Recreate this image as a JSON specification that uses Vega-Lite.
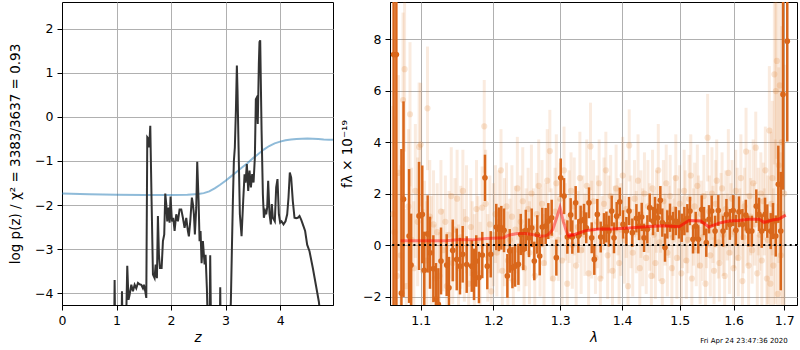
{
  "$schema": "https://vega.github.io/schema/vega-lite/v6.json",
  "padding": {"left": 8, "top": 1, "right": 0, "bottom": 0},
  "spacing": 6,
  "config": {
    "font": "DejaVu Sans",
    "view": {"stroke": "black", "strokeWidth": 1},
    "axis": {"grid": true, "gridColor": "#b0b0b0", "gridWidth": 1, "domainColor": "black", "tickColor": "black", "tickSize": 5, "labelFontSize": 12.5, "labelColor": "black", "titleFontSize": 13.5, "titleColor": "black", "titleFontWeight": "normal", "labelPadding": 4, "labelFlush": false, "labelFont": "DejaVu Sans", "titleFont": "DejaVu Sans"}
  },
  "datasets": {
    "prior": [
      {"z":0,"lp":-1.74},{"z":0.5,"lp":-1.755},{"z":1.0,"lp":-1.765},{"z":1.5,"lp":-1.77},{"z":2.0,"lp":-1.77},{"z":2.3,"lp":-1.765},{"z":2.5,"lp":-1.75},{"z":2.6,"lp":-1.73},{"z":2.7,"lp":-1.69},{"z":2.8,"lp":-1.62},{"z":2.9,"lp":-1.54},{"z":3.0,"lp":-1.45},{"z":3.1,"lp":-1.35},{"z":3.2,"lp":-1.25},{"z":3.3,"lp":-1.15},{"z":3.4,"lp":-1.05},{"z":3.5,"lp":-0.94},{"z":3.6,"lp":-0.84},{"z":3.7,"lp":-0.74},{"z":3.8,"lp":-0.66},{"z":3.9,"lp":-0.6},{"z":4.0,"lp":-0.56},{"z":4.1,"lp":-0.53},{"z":4.2,"lp":-0.51},{"z":4.3,"lp":-0.5},{"z":4.4,"lp":-0.495},{"z":4.5,"lp":-0.49},{"z":4.6,"lp":-0.495},{"z":4.7,"lp":-0.5},{"z":4.8,"lp":-0.51},{"z":4.9,"lp":-0.515},{"z":4.97,"lp":-0.52}
    ],
    "pz": [
      {"z":0.0,"lp":-9},{"z":0.5,"lp":-8},{"z":0.94,"lp":-7},{"z":0.965,"lp":-3.7},{"z":0.99,"lp":-6.5},{"z":1.08,"lp":-6},{"z":1.1,"lp":-3.96},{"z":1.12,"lp":-5.5},{"z":1.17,"lp":-5},{"z":1.197,"lp":-3.38},{"z":1.22,"lp":-4.15},{"z":1.24,"lp":-4.04},{"z":1.271,"lp":-3.81},{"z":1.301,"lp":-3.96},{"z":1.332,"lp":-3.81},{"z":1.362,"lp":-3.89},{"z":1.393,"lp":-3.77},{"z":1.424,"lp":-3.8},{"z":1.454,"lp":-3.81},{"z":1.484,"lp":-3.89},{"z":1.503,"lp":-3.81},{"z":1.527,"lp":-3.96},{"z":1.546,"lp":-4.11},{"z":1.564,"lp":-0.46},{"z":1.588,"lp":-0.5},{"z":1.6,"lp":-0.69},{"z":1.619,"lp":-0.2},{"z":1.643,"lp":-1.91},{"z":1.668,"lp":-3.58},{"z":1.698,"lp":-3.66},{"z":1.717,"lp":-3.35},{"z":1.741,"lp":-3.66},{"z":1.759,"lp":-2.25},{"z":1.778,"lp":-3.13},{"z":1.796,"lp":-3.43},{"z":1.827,"lp":-3.43},{"z":1.851,"lp":-2.82},{"z":1.875,"lp":-2.67},{"z":1.894,"lp":-1.74},{"z":1.912,"lp":-1.98},{"z":1.93,"lp":-2.37},{"z":1.955,"lp":-2.06},{"z":1.973,"lp":-2.4},{"z":1.991,"lp":-1.81},{"z":2.016,"lp":-2.37},{"z":2.04,"lp":-2.29},{"z":2.065,"lp":-2.59},{"z":2.095,"lp":-2.21},{"z":2.126,"lp":-2.37},{"z":2.156,"lp":-2.1},{"z":2.187,"lp":-2.1},{"z":2.217,"lp":-2.29},{"z":2.248,"lp":-2.52},{"z":2.279,"lp":-2.29},{"z":2.309,"lp":-2.59},{"z":2.327,"lp":-2.71},{"z":2.352,"lp":-2.37},{"z":2.382,"lp":-1.83},{"z":2.401,"lp":-1.98},{"z":2.419,"lp":-2.21},{"z":2.437,"lp":-2.67},{"z":2.462,"lp":-2.06},{"z":2.48,"lp":-1.02},{"z":2.505,"lp":-1.91},{"z":2.523,"lp":-2.82},{"z":2.541,"lp":-2.59},{"z":2.56,"lp":-3.32},{"z":2.584,"lp":-2.82},{"z":2.615,"lp":-3.35},{"z":2.633,"lp":-3.13},{"z":2.657,"lp":-3.89},{"z":2.68,"lp":-5},{"z":2.705,"lp":-5},{"z":2.718,"lp":-3.14},{"z":2.735,"lp":-5},{"z":2.89,"lp":-5.5},{"z":2.902,"lp":-3.87},{"z":2.915,"lp":-5.5},{"z":3.073,"lp":-5},{"z":3.097,"lp":-4.19},{"z":3.115,"lp":-3.05},{"z":3.134,"lp":-1.91},{"z":3.152,"lp":-1.0},{"z":3.17,"lp":-0.69},{"z":3.189,"lp":0.14},{"z":3.207,"lp":1.17},{"z":3.219,"lp":0.6},{"z":3.238,"lp":-0.69},{"z":3.262,"lp":-2.21},{"z":3.293,"lp":-2.71},{"z":3.323,"lp":-1.91},{"z":3.348,"lp":-1.3},{"z":3.366,"lp":-1.49},{"z":3.39,"lp":-1.07},{"z":3.415,"lp":-1.68},{"z":3.439,"lp":-1.22},{"z":3.464,"lp":-1.6},{"z":3.488,"lp":-1.3},{"z":3.513,"lp":-1.49},{"z":3.537,"lp":-0.92},{"z":3.555,"lp":0.4},{"z":3.572,"lp":0.44},{"z":3.59,"lp":-0.16},{"z":3.61,"lp":1.2},{"z":3.622,"lp":1.7},{"z":3.635,"lp":1.74},{"z":3.645,"lp":0.9},{"z":3.66,"lp":-0.3},{"z":3.684,"lp":-1.76},{"z":3.702,"lp":-2.29},{"z":3.726,"lp":-2.14},{"z":3.745,"lp":-2.21},{"z":3.763,"lp":-2.06},{"z":3.781,"lp":-1.45},{"z":3.806,"lp":-2.21},{"z":3.83,"lp":-2.44},{"z":3.848,"lp":-1.98},{"z":3.867,"lp":-2.29},{"z":3.903,"lp":-2.37},{"z":3.928,"lp":-1.6},{"z":3.952,"lp":-1.41},{"z":3.977,"lp":-2.21},{"z":4.001,"lp":-2.4},{"z":4.026,"lp":-2.37},{"z":4.062,"lp":-2.44},{"z":4.099,"lp":-2.37},{"z":4.13,"lp":-2.21},{"z":4.154,"lp":-1.83},{"z":4.178,"lp":-1.26},{"z":4.203,"lp":-1.38},{"z":4.233,"lp":-1.91},{"z":4.264,"lp":-2.29},{"z":4.294,"lp":-2.3},{"z":4.325,"lp":-2.29},{"z":4.356,"lp":-2.25},{"z":4.386,"lp":-2.33},{"z":4.417,"lp":-2.44},{"z":4.459,"lp":-2.59},{"z":4.496,"lp":-2.9},{"z":4.539,"lp":-3.05},{"z":4.6,"lp":-3.43},{"z":4.661,"lp":-3.85},{"z":4.71,"lp":-4.19},{"z":4.753,"lp":-4.65},{"z":4.95,"lp":-7}
    ],
    "faint": [
      {"l":1.064,"f":1.2,"e":4.2},{"l":1.066,"f":0.5,"e":4.5},{"l":1.069,"f":-1.2,"e":4.0},{"l":1.071,"f":2.8,"e":3.8},{"l":1.074,"f":-0.4,"e":3.5},{"l":1.077,"f":5.63,"e":3.4},{"l":1.079,"f":6.83,"e":3.2},{"l":1.081,"f":-1.6,"e":3.0},{"l":1.084,"f":1.5,"e":3.0},{"l":1.086,"f":5.08,"e":2.8},{"l":1.088,"f":0.2,"e":2.8},{"l":1.091,"f":-0.9,"e":2.6},{"l":1.093,"f":2.1,"e":2.6},{"l":1.096,"f":0.9,"e":2.5},{"l":1.098,"f":3.81,"e":2.5},{"l":1.1,"f":3.9,"e":2.4},{"l":1.103,"f":-1.0,"e":2.4},{"l":1.105,"f":0.2,"e":2.3},{"l":1.108,"f":-0.6,"e":2.3},{"l":1.109,"f":5.31,"e":2.4},{"l":1.112,"f":1.1,"e":2.2},{"l":1.114,"f":-0.3,"e":2.2},{"l":1.117,"f":0.8,"e":2.1},{"l":1.119,"f":-1.3,"e":2.1},
      {"l":1.122,"f":0.5,"e":1.9},{"l":1.125,"f":-1.2,"e":1.7},{"l":1.127,"f":1.3,"e":2.0},{"l":1.13,"f":-0.2,"e":1.6},{"l":1.133,"f":0.9,"e":1.8},{"l":1.135,"f":-1.6,"e":2.1},{"l":1.138,"f":0.4,"e":1.7},{"l":1.141,"f":1.9,"e":1.9},{"l":1.143,"f":-0.7,"e":1.6},{"l":1.146,"f":0.6,"e":2.0},{"l":1.149,"f":1.8,"e":1.9},{"l":1.151,"f":-0.9,"e":1.7},{"l":1.154,"f":0.3,"e":2.0},{"l":1.157,"f":2.1,"e":1.6},{"l":1.159,"f":-0.4,"e":1.8},{"l":1.162,"f":1.0,"e":2.1},{"l":1.165,"f":-1.5,"e":1.7},{"l":1.168,"f":0.7,"e":1.9},{"l":1.17,"f":0.1,"e":1.6},{"l":1.173,"f":-0.8,"e":2.0},{"l":1.176,"f":1.4,"e":1.9},{"l":1.178,"f":0.2,"e":1.7},{"l":1.181,"f":-1.1,"e":2.0},{"l":1.184,"f":1.45,"e":1.6},{"l":1.187,"f":4.61,"e":1.8},{"l":1.189,"f":1.6,"e":2.1},{"l":1.192,"f":-0.5,"e":1.7},{"l":1.195,"f":0.8,"e":1.9},{"l":1.197,"f":-1.8,"e":1.6},{"l":1.2,"f":0.4,"e":2.0},{"l":1.203,"f":1.2,"e":1.9},{"l":1.205,"f":-0.3,"e":1.7},{"l":1.208,"f":0.9,"e":2.0},{"l":1.211,"f":2.9,"e":1.6},{"l":1.213,"f":-1.0,"e":1.8},{"l":1.216,"f":0.5,"e":2.1},{"l":1.219,"f":1.5,"e":1.7},{"l":1.221,"f":-0.6,"e":1.9},{"l":1.224,"f":0.2,"e":1.6},{"l":1.227,"f":1.1,"e":2.0},{"l":1.229,"f":-1.4,"e":1.9},{"l":1.232,"f":0.6,"e":1.7},{"l":1.235,"f":2.2,"e":2.0},{"l":1.237,"f":-0.2,"e":1.6},{"l":1.24,"f":0.9,"e":1.8},{"l":1.243,"f":1.7,"e":2.1},{"l":1.245,"f":-0.9,"e":1.7},{"l":1.248,"f":0.3,"e":1.9},{"l":1.251,"f":1.4,"e":1.6},{"l":1.253,"f":-0.3,"e":2.0},{"l":1.256,"f":2.0,"e":1.9},{"l":1.259,"f":0.5,"e":1.7},{"l":1.261,"f":-1.2,"e":2.0},{"l":1.264,"f":1.2,"e":1.6},{"l":1.267,"f":2.3,"e":1.8},{"l":1.269,"f":0.1,"e":2.1},{"l":1.272,"f":1.6,"e":1.7},{"l":1.275,"f":-0.7,"e":1.9},{"l":1.277,"f":0.8,"e":1.6},{"l":1.28,"f":2.5,"e":2.0},
      {"l":1.284,"f":3.65,"e":1.6},{"l":1.286,"f":0.4,"e":1.8},{"l":1.289,"f":-1.3,"e":1.5},{"l":1.292,"f":1.3,"e":1.7},{"l":1.294,"f":2.4,"e":1.9},{"l":1.297,"f":0.2,"e":1.6},{"l":1.3,"f":1.8,"e":1.4},{"l":1.303,"f":-0.6,"e":1.8},{"l":1.306,"f":2.9,"e":1.7},{"l":1.308,"f":0.9,"e":1.5},{"l":1.311,"f":-1.5,"e":1.6},{"l":1.314,"f":1.1,"e":1.8},{"l":1.317,"f":2.1,"e":1.5},{"l":1.319,"f":0.0,"e":1.7},{"l":1.322,"f":1.5,"e":1.9},{"l":1.325,"f":-0.8,"e":1.6},{"l":1.328,"f":0.7,"e":1.4},{"l":1.331,"f":2.6,"e":1.8},{"l":1.333,"f":-0.2,"e":1.7},{"l":1.336,"f":1.2,"e":1.5},{"l":1.339,"f":0.4,"e":1.6},{"l":1.342,"f":2.3,"e":1.8},{"l":1.345,"f":-1.1,"e":1.5},{"l":1.348,"f":3.83,"e":1.7},{"l":1.35,"f":0.6,"e":1.9},{"l":1.353,"f":1.7,"e":1.6},{"l":1.356,"f":-0.5,"e":1.4},{"l":1.359,"f":0.9,"e":1.8},{"l":1.362,"f":2.4,"e":1.7},{"l":1.364,"f":-1.3,"e":1.5},{"l":1.367,"f":0.3,"e":1.6},{"l":1.37,"f":1.6,"e":1.8},{"l":1.373,"f":2.9,"e":1.5},{"l":1.376,"f":-0.4,"e":1.7},{"l":1.378,"f":0.8,"e":1.9},{"l":1.381,"f":1.9,"e":1.6},{"l":1.384,"f":-1.0,"e":1.4},{"l":1.387,"f":0.5,"e":1.8},{"l":1.39,"f":2.2,"e":1.7},{"l":1.393,"f":1.1,"e":1.5},{"l":1.395,"f":-0.7,"e":1.6},{"l":1.398,"f":0.6,"e":1.8},{"l":1.401,"f":2.7,"e":1.5},{"l":1.404,"f":0.2,"e":1.7},{"l":1.407,"f":1.4,"e":1.9},{"l":1.41,"f":-1.6,"e":1.6},{"l":1.412,"f":3.87,"e":1.4},{"l":1.415,"f":0.9,"e":1.8},{"l":1.418,"f":-0.3,"e":1.7},{"l":1.421,"f":1.8,"e":1.5},{"l":1.424,"f":0.5,"e":1.6},{"l":1.427,"f":2.5,"e":1.8},{"l":1.43,"f":-0.9,"e":1.5},{"l":1.432,"f":1.2,"e":1.7},{"l":1.435,"f":0.3,"e":1.9},{"l":1.438,"f":2.0,"e":1.6},{"l":1.441,"f":-0.5,"e":1.4},{"l":1.444,"f":1.5,"e":1.8},{"l":1.447,"f":0.7,"e":1.7},{"l":1.45,"f":-1.2,"e":1.5},
      {"l":1.452,"f":2.2,"e":1.5},{"l":1.454,"f":0.4,"e":1.7},{"l":1.457,"f":-0.7,"e":1.4},{"l":1.459,"f":1.3,"e":1.6},{"l":1.462,"f":2.9,"e":1.8},{"l":1.464,"f":0.1,"e":1.5},{"l":1.466,"f":1.0,"e":1.3},{"l":1.469,"f":-1.4,"e":1.7},{"l":1.471,"f":1.7,"e":1.6},{"l":1.474,"f":0.6,"e":1.4},{"l":1.476,"f":2.4,"e":1.5},{"l":1.478,"f":-0.3,"e":1.7},{"l":1.481,"f":0.9,"e":1.4},{"l":1.483,"f":1.9,"e":1.6},{"l":1.486,"f":-0.9,"e":1.8},{"l":1.488,"f":0.3,"e":1.5},{"l":1.491,"f":1.4,"e":1.3},{"l":1.493,"f":2.6,"e":1.7},{"l":1.495,"f":-0.5,"e":1.6},{"l":1.498,"f":0.8,"e":1.4},{"l":1.5,"f":1.6,"e":1.5},{"l":1.503,"f":-1.1,"e":1.7},{"l":1.505,"f":0.5,"e":1.4},{"l":1.508,"f":2.1,"e":1.6},{"l":1.51,"f":1.1,"e":1.8},{"l":1.512,"f":-0.6,"e":1.5},{"l":1.515,"f":0.2,"e":1.3},{"l":1.517,"f":1.8,"e":1.7},{"l":1.52,"f":2.7,"e":1.6},{"l":1.522,"f":-1.3,"e":1.4},{"l":1.525,"f":0.7,"e":1.5},{"l":1.527,"f":1.5,"e":1.7},{"l":1.53,"f":-0.2,"e":1.4},{"l":1.532,"f":2.3,"e":1.6},{"l":1.534,"f":0.9,"e":1.8},{"l":1.537,"f":-0.8,"e":1.5},{"l":1.539,"f":1.2,"e":1.3},{"l":1.542,"f":0.3,"e":1.7},{"l":1.544,"f":1.9,"e":1.6},{"l":1.547,"f":-1.5,"e":1.4},{"l":1.549,"f":0.6,"e":1.5},{"l":1.551,"f":4.17,"e":1.7},{"l":1.554,"f":1.3,"e":1.4},{"l":1.556,"f":-0.4,"e":1.6},{"l":1.559,"f":2.0,"e":1.8},{"l":1.561,"f":0.8,"e":1.5},{"l":1.563,"f":-1.0,"e":1.3},{"l":1.566,"f":1.6,"e":1.7},{"l":1.568,"f":2.5,"e":1.6},{"l":1.571,"f":0.1,"e":1.4},{"l":1.573,"f":-0.7,"e":1.5},{"l":1.576,"f":1.1,"e":1.7},{"l":1.578,"f":2.2,"e":1.4},{"l":1.58,"f":0.4,"e":1.6},{"l":1.583,"f":-1.2,"e":1.8},{"l":1.585,"f":1.4,"e":1.5},{"l":1.588,"f":0.7,"e":1.3},{"l":1.59,"f":2.8,"e":1.7},{"l":1.592,"f":-0.3,"e":1.6},{"l":1.595,"f":1.0,"e":1.4},{"l":1.597,"f":1.8,"e":1.5},{"l":1.6,"f":-0.9,"e":1.7},{"l":1.602,"f":0.5,"e":1.4},{"l":1.604,"f":2.1,"e":1.6},{"l":1.607,"f":1.2,"e":1.8},{"l":1.609,"f":-0.5,"e":1.5},{"l":1.612,"f":0.9,"e":1.3},{"l":1.614,"f":2.6,"e":1.7},{"l":1.617,"f":-1.4,"e":1.6},{"l":1.619,"f":0.3,"e":1.4},{"l":1.621,"f":1.5,"e":1.5},{"l":1.624,"f":3.63,"e":1.7},{"l":1.626,"f":0.6,"e":1.4},{"l":1.629,"f":-0.8,"e":1.6},{"l":1.631,"f":1.9,"e":1.8},{"l":1.633,"f":1.1,"e":1.5},{"l":1.636,"f":-0.2,"e":1.3},{"l":1.638,"f":2.4,"e":1.7},{"l":1.641,"f":0.8,"e":1.6},{"l":1.643,"f":3.78,"e":1.4},{"l":1.646,"f":-1.1,"e":1.5},{"l":1.648,"f":1.3,"e":1.7},{"l":1.651,"f":0.4,"e":1.4},{"l":1.653,"f":2.0,"e":1.6},{"l":1.655,"f":-0.6,"e":1.8},{"l":1.658,"f":1.7,"e":1.5},{"l":1.66,"f":0.9,"e":1.3},{"l":1.662,"f":2.9,"e":1.7},{"l":1.665,"f":-1.3,"e":1.6},
      {"l":1.667,"f":0.2,"e":2.5},{"l":1.67,"f":4.45,"e":2.5},{"l":1.672,"f":-1.5,"e":2.8},{"l":1.674,"f":1.6,"e":2.8},{"l":1.676,"f":2.6,"e":3.0},{"l":1.678,"f":-0.8,"e":3.0},{"l":1.68,"f":6.63,"e":3.5},{"l":1.682,"f":0.9,"e":3.2},{"l":1.683,"f":5.98,"e":3.5},{"l":1.685,"f":7.15,"e":3.8},{"l":1.687,"f":-1.9,"e":3.5},{"l":1.689,"f":3.1,"e":3.8},{"l":1.691,"f":6.2,"e":4.0},{"l":1.693,"f":-0.4,"e":4.0},{"l":1.695,"f":4.0,"e":4.5},{"l":1.697,"f":1.2,"e":4.5},{"l":1.7,"f":2.0,"e":5.0}
    ],
    "dark": [
      {"l":1.0649,"f":7.4,"e":12},{"l":1.0684,"f":7.4,"e":12},{"l":1.0749,"f":-1.87,"e":5.6},{"l":1.0776,"f":1.78,"e":3.8},{"l":1.0848,"f":0.35,"e":2.6},{"l":1.0874,"f":-0.78,"e":2.0},{"l":1.0978,"f":1.13,"e":2.1},{"l":1.1021,"f":1.19,"e":1.9},{"l":1.1047,"f":-0.98,"e":1.5},{"l":1.1092,"f":0.43,"e":1.5},{"l":1.1123,"f":-0.3,"e":1.4},{"l":1.1168,"f":-0.92,"e":1.3},{"l":1.1203,"f":-2.1,"e":1.4},{"l":1.1235,"f":-2.3,"e":1.4},{"l":1.1271,"f":-0.62,"e":1.3},{"l":1.1348,"f":-0.78,"e":1.2},{"l":1.1379,"f":-1.66,"e":1.2},{"l":1.143,"f":-0.21,"e":1.2},{"l":1.1485,"f":-0.56,"e":1.2},{"l":1.153,"f":-0.82,"e":1.1},{"l":1.1567,"f":-0.36,"e":1.1},{"l":1.1623,"f":-0.76,"e":1.1},{"l":1.1693,"f":-0.82,"e":1.0},{"l":1.1725,"f":-1.14,"e":1.0},{"l":1.1757,"f":-0.62,"e":1.0},{"l":1.1795,"f":-1.26,"e":1.0},{"l":1.1842,"f":-0.39,"e":0.9},{"l":1.188,"f":2.61,"e":0.9},{"l":1.1913,"f":-0.82,"e":0.9},{"l":1.1962,"f":-0.36,"e":0.9},{"l":1.2042,"f":0.7,"e":0.9},{"l":1.2081,"f":0.61,"e":0.85},{"l":1.2115,"f":0.67,"e":0.85},{"l":1.2154,"f":0.57,"e":0.85},{"l":1.2203,"f":-1.2,"e":0.85},{"l":1.2238,"f":-0.23,"e":0.85},{"l":1.2277,"f":-0.88,"e":0.8},{"l":1.2316,"f":-0.82,"e":0.8},{"l":1.2365,"f":-0.75,"e":0.8},{"l":1.24,"f":0.41,"e":0.8},{"l":1.2439,"f":-0.17,"e":0.8},{"l":1.2475,"f":0.57,"e":0.8},{"l":1.2523,"f":0.28,"e":0.75},{"l":1.2564,"f":0.67,"e":0.75},{"l":1.2603,"f":-0.62,"e":0.75},{"l":1.2648,"f":0.41,"e":0.75},{"l":1.2685,"f":-0.43,"e":0.75},{"l":1.2724,"f":0.7,"e":0.75},{"l":1.2776,"f":0.74,"e":0.7},{"l":1.2816,"f":0.93,"e":0.7},{"l":1.2868,"f":1.06,"e":0.7},{"l":1.294,"f":-0.49,"e":0.7},{"l":1.3008,"f":2.61,"e":0.75},{"l":1.306,"f":1.9,"e":0.7},{"l":1.3112,"f":0.31,"e":0.65},{"l":1.3164,"f":1.17,"e":0.65},{"l":1.319,"f":0.31,"e":0.65},{"l":1.3243,"f":1.64,"e":0.65},{"l":1.3285,"f":0.35,"e":0.65},{"l":1.3322,"f":0.93,"e":0.6},{"l":1.3376,"f":1.0,"e":0.6},{"l":1.3412,"f":0.67,"e":0.6},{"l":1.3456,"f":1.64,"e":0.6},{"l":1.35,"f":0.28,"e":0.6},{"l":1.3542,"f":-0.56,"e":0.6},{"l":1.3591,"f":1.19,"e":0.6},{"l":1.3646,"f":0.31,"e":0.6},{"l":1.37,"f":0.64,"e":0.6},{"l":1.3739,"f":0.7,"e":0.6},{"l":1.3782,"f":0.54,"e":0.6},{"l":1.3827,"f":1.32,"e":0.6},{"l":1.3865,"f":0.28,"e":0.6},{"l":1.391,"f":1.12,"e":0.55},{"l":1.3961,"f":1.68,"e":0.55},{"l":1.4016,"f":0.8,"e":0.55},{"l":1.4072,"f":0.54,"e":0.55},{"l":1.4117,"f":1.32,"e":0.55},{"l":1.4173,"f":0.48,"e":0.55},{"l":1.4242,"f":1.04,"e":0.55},{"l":1.4287,"f":0.74,"e":0.55},{"l":1.4333,"f":1.09,"e":0.55},{"l":1.4373,"f":0.28,"e":0.55},{"l":1.443,"f":0.61,"e":0.55},{"l":1.4471,"f":1.45,"e":0.55},{"l":1.4528,"f":0.93,"e":0.55},{"l":1.4563,"f":1.32,"e":0.55},{"l":1.461,"f":1.06,"e":0.55},{"l":1.4656,"f":1.74,"e":0.55},{"l":1.4691,"f":0.87,"e":0.55},{"l":1.4738,"f":-0.1,"e":0.55},{"l":1.4779,"f":0.8,"e":0.55},{"l":1.4827,"f":1.06,"e":0.55},{"l":1.4881,"f":0.74,"e":0.55},{"l":1.4929,"f":0.93,"e":0.55},{"l":1.4988,"f":0.8,"e":0.55},{"l":1.5037,"f":0.67,"e":0.55},{"l":1.5084,"f":0.93,"e":0.55},{"l":1.5138,"f":1.04,"e":0.55},{"l":1.5186,"f":1.32,"e":0.55},{"l":1.5241,"f":0.22,"e":0.55},{"l":1.529,"f":0.74,"e":0.55},{"l":1.5338,"f":0.22,"e":0.55},{"l":1.54,"f":1.38,"e":0.55},{"l":1.5443,"f":0.93,"e":0.55},{"l":1.5485,"f":0.09,"e":0.55},{"l":1.5536,"f":1.0,"e":0.55},{"l":1.5586,"f":1.32,"e":0.6},{"l":1.5649,"f":0.54,"e":0.6},{"l":1.571,"f":1.34,"e":0.6},{"l":1.5799,"f":0.54,"e":0.6},{"l":1.5863,"f":1.19,"e":0.6},{"l":1.5928,"f":0.8,"e":0.6},{"l":1.5992,"f":1.34,"e":0.6},{"l":1.6044,"f":0.57,"e":0.6},{"l":1.6104,"f":1.29,"e":0.6},{"l":1.617,"f":0.8,"e":0.6},{"l":1.6236,"f":1.16,"e":0.6},{"l":1.6285,"f":0.54,"e":0.6},{"l":1.6353,"f":0.54,"e":0.6},{"l":1.6441,"f":1.51,"e":0.65},{"l":1.6495,"f":1.19,"e":0.65},{"l":1.6548,"f":0.54,"e":0.65},{"l":1.6614,"f":1.19,"e":0.65},{"l":1.6659,"f":0.93,"e":0.65},{"l":1.6727,"f":0.54,"e":0.7},{"l":1.6773,"f":0.93,"e":0.7},{"l":1.6828,"f":0.35,"e":0.8},{"l":1.688,"f":2.36,"e":1.5},{"l":1.6929,"f":0.54,"e":2.3},{"l":1.6975,"f":5.85,"e":3.7},{"l":1.7062,"f":7.92,"e":3.9}
    ],
    "m1": [
      {"l":1.0739,"f":0.17},{"l":1.1,"f":0.17},{"l":1.1334,"f":0.17},{"l":1.15,"f":0.2},{"l":1.17,"f":0.2},{"l":1.19,"f":0.25},{"l":1.215,"f":0.28},{"l":1.222,"f":0.38},{"l":1.235,"f":0.45},{"l":1.2473,"f":0.45},{"l":1.255,"f":0.42},{"l":1.27,"f":0.34},{"l":1.2776,"f":0.36},{"l":1.282,"f":0.42},{"l":1.2885,"f":0.6},{"l":1.295,"f":1.1},{"l":1.2997,"f":1.46},{"l":1.305,"f":0.9},{"l":1.311,"f":0.43},{"l":1.3217,"f":0.4}
    ],
    "m2": [
      {"l":1.311,"f":0.33},{"l":1.3217,"f":0.4},{"l":1.3403,"f":0.56},{"l":1.3618,"f":0.62},{"l":1.3837,"f":0.62},{"l":1.4117,"f":0.66},{"l":1.4402,"f":0.71},{"l":1.4691,"f":0.75},{"l":1.4988,"f":0.71},{"l":1.5168,"f":0.95},{"l":1.5382,"f":0.93},{"l":1.5536,"f":0.7},{"l":1.5723,"f":0.85},{"l":1.5912,"f":0.93},{"l":1.6104,"f":0.95},{"l":1.6298,"f":1.0},{"l":1.6495,"f":1.0},{"l":1.6594,"f":0.88},{"l":1.676,"f":0.97},{"l":1.6894,"f":1.01},{"l":1.703,"f":1.16}
    ]
  },
  "hconcat": [
    {
      "width": 271,
      "height": 303,
      "encoding": {
        "x": {"field": "z", "type": "quantitative", "title": "z", "scale": {"domain": [0, 4.97], "nice": false, "zero": false}, "axis": {"values": [0, 1, 2, 3, 4], "titleFontStyle": "italic"}},
        "y": {"field": "lp", "type": "quantitative", "title": "log p(z) / χ² = 3383/3637 = 0.93", "scale": {"domain": [-4.27, 2.61], "nice": false, "zero": false}, "axis": {"values": [-4, -3, -2, -1, 0, 1, 2], "titlePadding": 12}}
      },
      "layer": [
        {"data": {"name": "prior"}, "mark": {"type": "line", "color": "#1f77b4", "opacity": 0.5, "strokeWidth": 2, "clip": true}},
        {"data": {"name": "pz"}, "mark": {"type": "line", "color": "#333333", "strokeWidth": 2, "clip": true}},
        {"data": {"values": [{"t": "j161312p5650"}]}, "mark": {"type": "text", "align": "right", "baseline": "alphabetic", "fontSize": 12.5, "color": "black"}, "encoding": {"x": {"datum": 4.70}, "y": {"datum": 2.09}, "text": {"field": "t"}}},
        {"data": {"values": [{"t": "ID=505    z=3.6431"}]}, "mark": {"type": "text", "align": "right", "baseline": "alphabetic", "fontSize": 12.5, "color": "black"}, "encoding": {"x": {"datum": 4.70}, "y": {"datum": 1.75}, "text": {"field": "t"}}}
      ]
    },
    {
      "width": 407,
      "height": 303,
      "layer": [
        {"data": {"name": "faint"}, "mark": {"type": "errorbar", "color": "#e07b2a", "opacity": 0.15, "thickness": 3, "clip": true},
         "encoding": {
           "x": {"field": "l", "type": "quantitative", "title": "λ", "scale": {"type": "log", "domain": [1.0603, 1.7262], "nice": false}, "axis": {"values": [1.1, 1.2, 1.3, 1.4, 1.5, 1.6, 1.7], "format": ".1f", "titleFontStyle": "italic"}},
           "y": {"field": "f", "type": "quantitative", "title": "fλ × 10⁻¹⁹", "scale": {"domain": [-2.33, 9.44], "nice": false, "zero": false}, "axis": {"values": [-2, 0, 2, 4, 6, 8], "titlePadding": 8}},
           "yError": {"field": "e"}}},
        {"data": {"name": "faint"}, "mark": {"type": "point", "filled": true, "color": "#e07b2a", "opacity": 0.2, "size": 38, "clip": true},
         "encoding": {
           "x": {"field": "l", "type": "quantitative", "title": "λ"},
           "y": {"field": "f", "type": "quantitative", "title": "fλ × 10⁻¹⁹"}}},
        {"data": {"name": "dark"}, "mark": {"type": "errorbar", "color": "#d9671b", "thickness": 2.5, "clip": true},
         "encoding": {
           "x": {"field": "l", "type": "quantitative", "title": "λ"},
           "y": {"field": "f", "type": "quantitative", "title": "fλ × 10⁻¹⁹"},
           "yError": {"field": "e"}}},
        {"data": {"name": "dark"}, "mark": {"type": "point", "filled": true, "color": "#d9671b", "opacity": 1, "size": 32, "clip": true},
         "encoding": {
           "x": {"field": "l", "type": "quantitative", "title": "λ"},
           "y": {"field": "f", "type": "quantitative", "title": "fλ × 10⁻¹⁹"}}},
        {"data": {"name": "m1"}, "mark": {"type": "line", "color": "red", "opacity": 0.45, "strokeWidth": 3, "clip": true},
         "encoding": {
           "x": {"field": "l", "type": "quantitative", "title": "λ"},
           "y": {"field": "f", "type": "quantitative", "title": "fλ × 10⁻¹⁹"}}},
        {"data": {"name": "m2"}, "mark": {"type": "line", "color": "red", "opacity": 0.6, "strokeWidth": 3, "clip": true},
         "encoding": {
           "x": {"field": "l", "type": "quantitative", "title": "λ"},
           "y": {"field": "f", "type": "quantitative", "title": "fλ × 10⁻¹⁹"}}},
        {"data": {"values": [{}]}, "mark": {"type": "rule", "color": "black", "strokeDash": [2, 3.3], "strokeWidth": 2},
         "encoding": {"y": {"datum": 0}}},
        {"data": {"values": [{"t": "Fri Apr 24 23:47:36 2020"}]}, "mark": {"type": "text", "align": "center", "baseline": "alphabetic", "fontSize": 7, "color": "black"},
         "encoding": {"x": {"datum": 1.62}, "y": {"datum": -3.79}, "text": {"field": "t"}}}
      ]
    }
  ]
}
